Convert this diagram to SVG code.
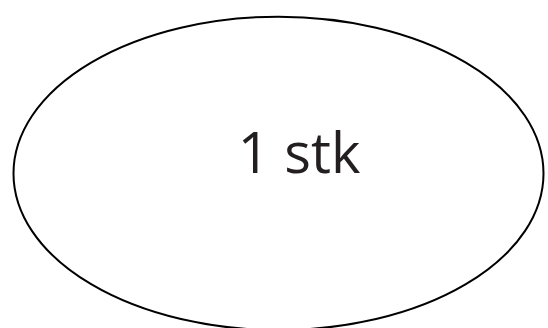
<svg xmlns="http://www.w3.org/2000/svg" width="548" height="328" viewBox="0 0 548 328">
<style>
.shape{fill:#fff;stroke:#000;stroke-width:2}
.lbl{font-family:"Open Sans","Noto Sans",sans-serif;font-size:56px;fill:#231f20}
</style>
<rect width="548" height="328" fill="#fff"/>
<g id="node1">
<ellipse class="shape" cx="278.5" cy="173.4" rx="265" ry="156.7"/>
<text class="lbl" x="299" y="173.3" text-anchor="middle">1 stk</text>
</g>
<g id="connectors"/>
</svg>
